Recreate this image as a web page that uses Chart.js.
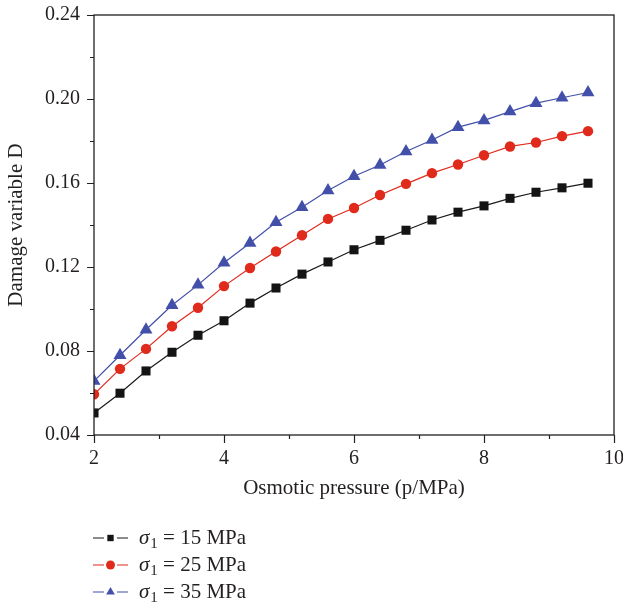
<!DOCTYPE html>
<html>
<head>
<meta charset="utf-8">
<script src="https://cdn.jsdelivr.net/npm/chart.js@4.4.1/dist/chart.umd.min.js"></script>
<style>
  html, body { margin: 0; padding: 0; background: #fff; }
  #wrap { width: 623px; height: 607px; }
</style>
</head>
<body>
<div id="wrap"><canvas id="damageChart" width="623" height="607"></canvas></div>
<script>
// Osmotic pressure (MPa)
const pressure = [2.0, 2.4, 2.8, 3.2, 3.6, 4.0, 4.4, 4.8, 5.2, 5.6, 6.0, 6.4, 6.8, 7.2, 7.6, 8.0, 8.4, 8.8, 9.2, 9.6];

// Damage variable D for each confining stress
const damage15 = [0.0505, 0.0599, 0.0705, 0.0794, 0.0875, 0.0944, 0.1028, 0.1100, 0.1166, 0.1224, 0.1282, 0.1327, 0.1375, 0.1424, 0.1461, 0.1491, 0.1527, 0.1556, 0.1577, 0.1599];
const damage25 = [0.0594, 0.0715, 0.0810, 0.0918, 0.1006, 0.1109, 0.1195, 0.1274, 0.1351, 0.1429, 0.1481, 0.1543, 0.1596, 0.1647, 0.1688, 0.1732, 0.1774, 0.1793, 0.1823, 0.1847];
const damage35 = [0.0657, 0.0780, 0.0901, 0.1018, 0.1115, 0.1220, 0.1314, 0.1413, 0.1484, 0.1564, 0.1632, 0.1686, 0.1750, 0.1805, 0.1866, 0.1898, 0.1940, 0.1980, 0.2006, 0.2031];

const stressLevels = [15, 25, 35];
const xTickLabels = [2, 4, 6, 8, 10];
const yTickLabels = [0.04, 0.08, 0.12, 0.16, 0.20, 0.24];

const FONT = '"Liberation Serif", "DejaVu Serif", serif';
const INK = '#231f20';

function series(values) {
  return values.map((v, i) => ({ x: pressure[i], y: v }));
}

// tick marks (major + minor), frame and the legend underneath
const framePlugin = {
  id: 'frame',
  afterDraw(chart) {
    const ctx = chart.ctx;
    const area = chart.chartArea;
    const xs = chart.scales.x, ys = chart.scales.y;
    ctx.save();
    ctx.strokeStyle = INK;
    ctx.lineWidth = 1.3;
    ctx.strokeRect(area.left, area.top, area.right - area.left, area.bottom - area.top);

    ctx.lineWidth = 1.2;
    ctx.beginPath();
    xs.ticks.forEach(t => {
      const px = Math.round(xs.getPixelForValue(t.value)) + 0.5;
      const len = xTickLabels.includes(Math.round(t.value)) ? 8 : 4;
      ctx.moveTo(px, area.bottom);
      ctx.lineTo(px, area.bottom + len);
    });
    ys.ticks.forEach(t => {
      const py = Math.round(ys.getPixelForValue(t.value)) + 0.5;
      const major = yTickLabels.some(v => Math.abs(v - t.value) < 1e-6);
      ctx.moveTo(area.left, py);
      ctx.lineTo(area.left - (major ? 7 : 4), py);
    });
    ctx.stroke();

    // legend
    const baseX = 93, rowY = [538, 565, 592];
    chart.data.datasets.forEach((ds, i) => {
      const y = rowY[i];
      ctx.strokeStyle = ds.borderColor;
      ctx.lineWidth = 1.2;
      ctx.beginPath();
      ctx.moveTo(baseX, y); ctx.lineTo(baseX + 11, y);
      ctx.moveTo(baseX + 24, y); ctx.lineTo(baseX + 35, y);
      ctx.stroke();
      ctx.fillStyle = ds.pointBackgroundColor;
      Chart.helpers.drawPoint(ctx, {
        pointStyle: ds.pointStyle,
        radius: ds.pointStyle === 'triangle' ? 5 : 4.5,
        rotation: 0,
        borderWidth: 0
      }, baseX + 17.5, y);

      let tx = 139;
      ctx.fillStyle = INK;
      ctx.textBaseline = 'middle';
      ctx.textAlign = 'left';
      ctx.font = 'italic 21px ' + FONT;
      ctx.fillText('\u03c3', tx, y);
      tx += ctx.measureText('\u03c3').width + 1;
      ctx.font = '15px ' + FONT;
      ctx.fillText('1', tx, y + 6);
      tx += ctx.measureText('1').width;
      ctx.font = '21px ' + FONT;
      ctx.fillText(' = ' + stressLevels[i] + ' MPa', tx, y);
    });
    ctx.restore();
  }
};

const ctx = document.getElementById('damageChart').getContext('2d');
new Chart(ctx, {
  type: 'line',
  data: {
    datasets: [
      {
        label: '\u03c31 = 15 MPa',
        data: series(damage15),
        borderColor: '#1a1a1a',
        pointBackgroundColor: '#141414',
        pointBorderColor: '#141414',
        pointStyle: 'rect',
        pointRadius: 6.4
      },
      {
        label: '\u03c31 = 25 MPa',
        data: series(damage25),
        borderColor: '#e02a1c',
        pointBackgroundColor: '#e02a1c',
        pointBorderColor: '#e02a1c',
        pointStyle: 'circle',
        pointRadius: 5.2
      },
      {
        label: '\u03c31 = 35 MPa',
        data: series(damage35),
        borderColor: '#4350aa',
        pointBackgroundColor: '#4350aa',
        pointBorderColor: '#4350aa',
        pointStyle: 'triangle',
        pointRadius: 7.5
      }
    ].map(ds => Object.assign({ borderWidth: 1.2, pointBorderWidth: 0, tension: 0, fill: false }, ds))
  },
  options: {
    responsive: false,
    animation: false,
    layout: { padding: { top: 15, right: 9, left: 0, bottom: 0 } },
    plugins: {
      legend: { display: false },
      tooltip: { enabled: false }
    },
    scales: {
      x: {
        type: 'linear',
        min: 2,
        max: 10,
        grid: { display: false, drawTicks: false },
        border: { display: false },
        afterFit: s => { s.height = 172; s.paddingLeft = 0; s.paddingRight = 0; },
        ticks: {
          stepSize: 1,
          padding: 12,
          color: INK,
          font: { family: FONT, size: 20 },
          callback: v => xTickLabels.includes(v) ? String(v) : ''
        },
        title: {
          display: true,
          text: 'Osmotic pressure (p/MPa)',
          color: INK,
          font: { family: FONT, size: 21 },
          padding: { bottom: 106 }
        }
      },
      y: {
        min: 0.04,
        max: 0.24,
        grid: { display: false, drawTicks: false },
        border: { display: false },
        afterFit: s => { s.width = 94; s.paddingTop = 0; s.paddingBottom = 0; },
        ticks: {
          stepSize: 0.02,
          padding: 14,
          color: INK,
          font: { family: FONT, size: 20 },
          callback: v => yTickLabels.some(t => Math.abs(t - v) < 1e-6) ? v.toFixed(2) : ''
        },
        title: {
          display: true,
          text: 'Damage variable D',
          color: INK,
          font: { family: FONT, size: 21 },
          padding: { top: 4 }
        }
      }
    }
  },
  plugins: [framePlugin]
});
</script>
</body>
</html>
